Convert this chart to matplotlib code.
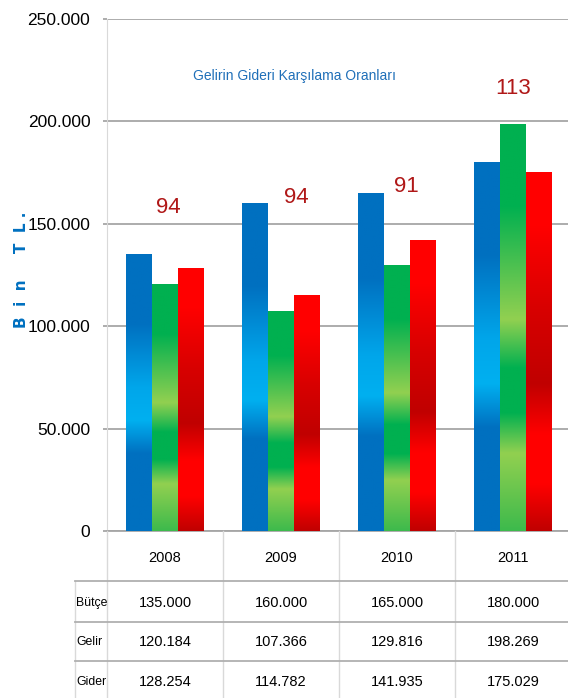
import numpy as np
import matplotlib
matplotlib.use('Agg')
import matplotlib.pyplot as plt
import matplotlib.transforms as mtransforms
from matplotlib.colors import LinearSegmentedColormap
from matplotlib.lines import Line2D

plt.rcParams['font.family'] = ['Liberation Sans', 'DejaVu Sans']

# data
years = ['2008', '2009', '2010', '2011']
butce = [135000, 160000, 165000, 180000]
gelir = [120184, 107366, 129816, 198269]
gider = [128254, 114782, 141935, 175029]
ratios = [94, 94, 91, 113]
row_labels = ['Bütçe', 'Gelir', 'Gider']
yticks = [0, 50000, 100000, 150000, 200000, 250000]
ytick_labels = ['0', '50.000', '100.000', '150.000', '200.000', '250.000']
title = 'Gelirin Gideri Karşılama Oranları'
ylabel = 'B  i  n     T  L .'

# where the ratio labels sit (x offset from category centre, y in data units)
ratio_dx = [0.03, 0.13, 0.08, 0.0]
ratio_y = [158000, 163000, 168000, 216000]

W, H = 568, 698
fig = plt.figure(figsize=(W / 100, H / 100), dpi=100)
ax = fig.add_axes([107 / W, (H - 531) / H, 464 / W, 512 / H])

def fy(py):
    return 1 - py / H

cmaps = [
    LinearSegmentedColormap.from_list('blue', [
        (0.0, '#0070C0'), (0.28, '#0070C0'), (0.40, '#00B0F0'),
        (0.52, '#00A6EA'), (0.75, '#0070C0'), (1.0, '#0070C0')]),
    LinearSegmentedColormap.from_list('green', [
        (0.0, '#3DBA4C'), (0.19, '#92D050'), (0.29, '#00B050'),
        (0.40, '#00B050'), (0.52, '#92D050'), (0.80, '#00B050'), (1.0, '#00B050')]),
    LinearSegmentedColormap.from_list('red', [
        (0.0, '#C00000'), (0.13, '#FF0000'), (0.27, '#FF0000'),
        (0.41, '#C00000'), (0.62, '#D80000'), (0.85, '#FF0000'), (1.0, '#FF0000')]),
]

series = [butce, gelir, gider]
x = np.arange(len(years))
bw = 0.224
grad = np.linspace(0, 1, 256).reshape(-1, 1)
for i, (vals, cm) in enumerate(zip(series, cmaps)):
    for xi, v in zip(x, vals):
        x0 = xi + (i - 1) * bw - bw / 2
        ax.imshow(grad, cmap=cm, extent=[x0, x0 + bw, 0, v], origin='lower',
                  aspect='auto', interpolation='bilinear', zorder=3)

ax.set_xlim(-0.5, len(years) - 0.5)
ax.set_ylim(0, 250000)
ax.set_xticks([])
ax.set_yticks(yticks)
ax.set_yticklabels(ytick_labels)
ax.tick_params(axis='y', length=3, width=1.3, color='#a6a6a6', pad=9, labelsize=12.5)
ax.yaxis.grid(True, color='#a6a6a6', lw=1.3)
ax.set_axisbelow(True)
for s in ['top', 'right']:
    ax.spines[s].set_visible(False)
ax.spines['left'].set_color('#d9d9d9')
ax.spines['bottom'].set_color('#a6a6a6')
ax.spines['bottom'].set_linewidth(1.3)

ax.text(1.12, 222000, title, ha='center', va='center',
        color='#1F6FB8', fontsize=10)
for xi, r, dx, yy in zip(x, ratios, ratio_dx, ratio_y):
    ax.text(xi + dx, yy, str(r), ha='center', va='center', color='#B01818', fontsize=16)

fig.text(22 / W, fy(270), ylabel, rotation=90, ha='center', va='center',
         color='#0070C0', fontsize=11, fontweight='bold', family=['DejaVu Sans'])

# table under the chart
bt = mtransforms.blended_transform_factory(ax.transData, fig.transFigure)
for xb in np.arange(-0.5, len(years), 1.0):
    fig.add_artist(Line2D([xb, xb], [fy(531), 0], transform=bt, color='#d9d9d9', lw=1))
fig.add_artist(Line2D([75 / W, 75 / W], [fy(581), 0], color='#d9d9d9', lw=1))
for py in [581, 622, 661]:
    fig.add_artist(Line2D([75 / W, 1], [fy(py), fy(py)], color='#b0b0b0', lw=1.3))

for xi, yr in zip(x, years):
    fig.text(xi, fy(558), yr, transform=bt, ha='center', va='center', fontsize=10.5)
row_y = [603, 642, 682]
for lab, vals, py in zip(row_labels, series, row_y):
    fig.text(76 / W, fy(py), lab, ha='left', va='center', fontsize=8.8)
    for xi, v in zip(x, vals):
        fig.text(xi, fy(py), f'{v:,}'.replace(',', '.'), transform=bt,
                 ha='center', va='center', fontsize=10.5)

fig.savefig('out.png', dpi=100)
